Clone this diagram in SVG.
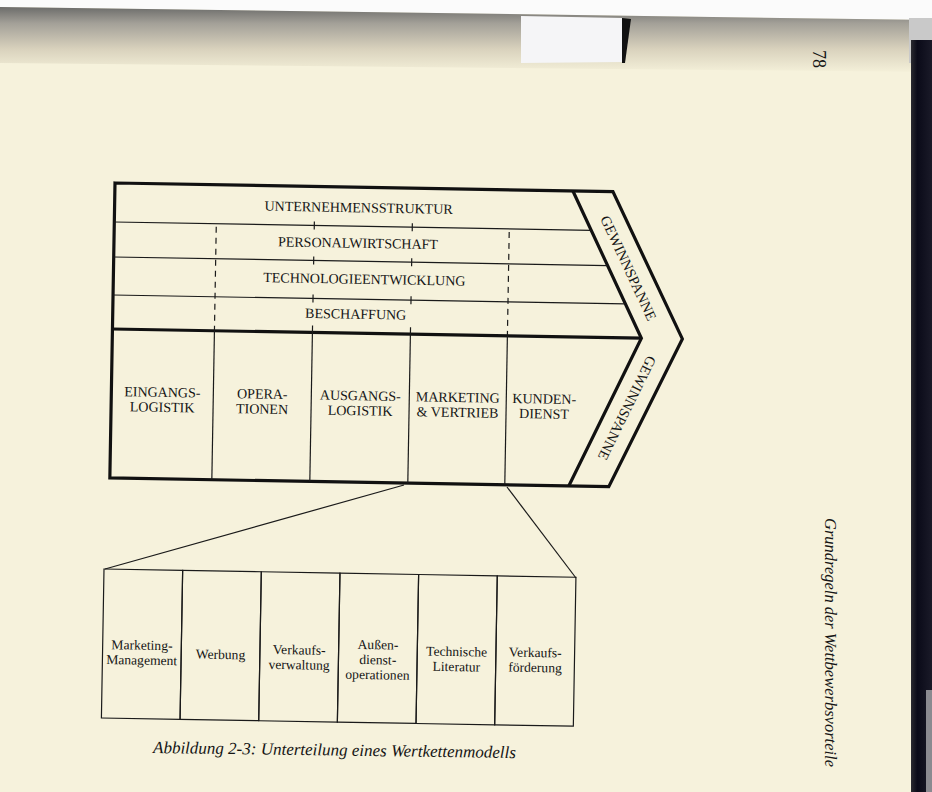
<svg xmlns="http://www.w3.org/2000/svg" width="932" height="792" viewBox="0 0 932 792">
<defs>
<linearGradient id="topband" x1="0" y1="0" x2="0" y2="1">
<stop offset="0" stop-color="#6c6c6a"/>
<stop offset="0.25" stop-color="#a3a098"/>
<stop offset="0.65" stop-color="#d9d2bd"/>
<stop offset="1" stop-color="#f4f0d9"/>
</linearGradient>
<linearGradient id="edge" x1="0" y1="0" x2="1" y2="0">
<stop offset="0" stop-color="#2a2a30"/>
<stop offset="0.3" stop-color="#0a0a18"/>
<stop offset="1" stop-color="#1a1a28"/>
</linearGradient>
</defs>
<style>
.thick{fill:none;stroke:#111;stroke-width:3.2;stroke-linejoin:miter}
.thin{fill:none;stroke:#1a1a1a;stroke-width:1.2}
.dash{fill:none;stroke:#1a1a1a;stroke-width:1.2;stroke-dasharray:6 5}
.t{font-family:"Liberation Serif","Times New Roman",serif;fill:#151515;text-anchor:middle;font-size:14px}
.s{font-family:"Liberation Serif","Times New Roman",serif;fill:#151515;text-anchor:middle;font-size:13.6px}
.cap{font-family:"Liberation Serif","Times New Roman",serif;fill:#151515;font-style:italic;font-size:17px}
</style>

<!-- page background -->
<rect x="0" y="0" width="932" height="792" fill="#f6f2dc"/>
<polygon points="0,0 932,0 932,20 0,7" fill="#fbfbfb"/>
<polygon points="0,7 932,20 932,72 0,63" fill="url(#topband)"/>
<polygon points="521,16 622,18 623,62 521,63" fill="#f5f5f7"/>
<polygon points="622,18 631,19 625,63 622,63" fill="#121212"/>
<rect x="909" y="18" width="23" height="45" fill="#c9c9c9"/>
<rect x="911" y="40" width="21" height="752" fill="url(#edge)"/>
<rect x="926" y="690" width="6" height="102" fill="#8a8a90"/>

<!-- header -->
<text class="cap" style="font-style:normal;font-size:18px" transform="translate(813,50) rotate(90)">78</text>
<text class="cap" style="font-size:16.5px" transform="translate(825,518) rotate(90)">Grundregeln der Wettbewerbsvorteile</text>

<!-- value chain -->
<g id="value-chain" transform="translate(115,183) rotate(1)">
  <g id="frame">
    <path class="thick" d="M0,0 L498,0 L570,146 L499,295 L0,295 Z"/>
    <path class="thick" d="M458,0 L529,146 L459,295"/>
    <line class="thick" x1="0" y1="146" x2="529" y2="146"/>
    <line class="thin" x1="0" y1="39" x2="477" y2="39"/>
    <line class="thin" x1="0" y1="74" x2="494" y2="74"/>
    <line class="thin" x1="0" y1="112" x2="512.5" y2="112"/>
    <line class="dash" x1="102" y1="42" x2="102" y2="146"/>
    <line class="dash" x1="395" y1="42" x2="395" y2="146"/>
    <path class="thin" d="M200,35 V43 M200,70 V78 M200,108 V116 M200,139 V146 M298,35 V43 M298,70 V78 M298,108 V116 M298,139 V146"/>
    <line class="thin" x1="102" y1="146" x2="102" y2="295"/>
    <line class="thin" x1="200" y1="146" x2="200" y2="295"/>
    <line class="thin" x1="298" y1="146" x2="298" y2="295"/>
    <line class="thin" x1="395" y1="146" x2="395" y2="295"/>
  </g>
  <g id="unternehmensstruktur"><text class="t" x="244" y="25">UNTERNEHMENSSTRUKTUR</text></g>
  <g id="personalwirtschaft"><text class="t" x="244" y="60.5">PERSONALWIRTSCHAFT</text></g>
  <g id="technologieentwicklung"><text class="t" x="251" y="96.5">TECHNOLOGIEENTWICKLUNG</text></g>
  <g id="beschaffung"><text class="t" x="243" y="131.5">BESCHAFFUNG</text></g>
  <g id="eingangslogistik"><text class="t" x="51" y="213">EINGANGS-</text><text class="t" x="51" y="228">LOGISTIK</text></g>
  <g id="operationen"><text class="t" x="151" y="213">OPERA-</text><text class="t" x="151" y="228">TIONEN</text></g>
  <g id="ausgangslogistik"><text class="t" x="249" y="213">AUSGANGS-</text><text class="t" x="249" y="228">LOGISTIK</text></g>
  <g id="marketing-vertrieb"><text class="t" x="346.5" y="213">MARKETING</text><text class="t" x="346.5" y="228">&amp; VERTRIEB</text></g>
  <g id="kundendienst"><text class="t" x="433" y="213">KUNDEN-</text><text class="t" x="433" y="228">DIENST</text></g>
  <g id="gewinnspanne-oben"><text class="t" style="font-size:14.5px" transform="translate(515,76) rotate(64.1)" y="5">GEWINNSPANNE</text></g>
  <g id="gewinnspanne-unten"><text class="t" style="font-size:14.5px" transform="translate(516,216) rotate(115.2)" y="5">GEWINNSPANNE</text></g>
</g>

<!-- connectors -->
<g id="connectors">
  <line class="thin" x1="404" y1="485" x2="105" y2="569"/>
  <line class="thin" x1="507" y1="487" x2="576" y2="578"/>
</g>

<!-- marketing breakdown -->
<g id="marketing-breakdown" transform="translate(104,569) rotate(1)">
  <g id="marketing-management"><rect class="thin" x="0" y="0" width="78.67" height="149"/><text class="s" x="39.3" y="80">Marketing-</text><text class="s" x="39.3" y="95">Management</text></g>
  <g id="werbung"><rect class="thin" x="78.67" y="0" width="78.67" height="149"/><text class="s" x="118" y="88">Werbung</text></g>
  <g id="verkaufsverwaltung"><rect class="thin" x="157.33" y="0" width="78.67" height="149"/><text class="s" x="196.7" y="82">Verkaufs-</text><text class="s" x="196.7" y="97">verwaltung</text></g>
  <g id="aussendienstoperationen"><rect class="thin" x="236" y="0" width="78.67" height="149"/><text class="s" x="275.3" y="75.5">Außen-</text><text class="s" x="275.3" y="90.5">dienst-</text><text class="s" x="275.3" y="105.5">operationen</text></g>
  <g id="technische-literatur"><rect class="thin" x="314.67" y="0" width="78.67" height="149"/><text class="s" x="354" y="81">Technische</text><text class="s" x="354" y="96">Literatur</text></g>
  <g id="verkaufsfoerderung"><rect class="thin" x="393.33" y="0" width="78.67" height="149"/><text class="s" x="432.7" y="80.5">Verkaufs-</text><text class="s" x="432.7" y="95.5">förderung</text></g>
</g>

<!-- caption -->
<text class="cap" transform="translate(153,753) rotate(0.8)">Abbildung 2-3: Unterteilung eines Wertkettenmodells</text>
</svg>
